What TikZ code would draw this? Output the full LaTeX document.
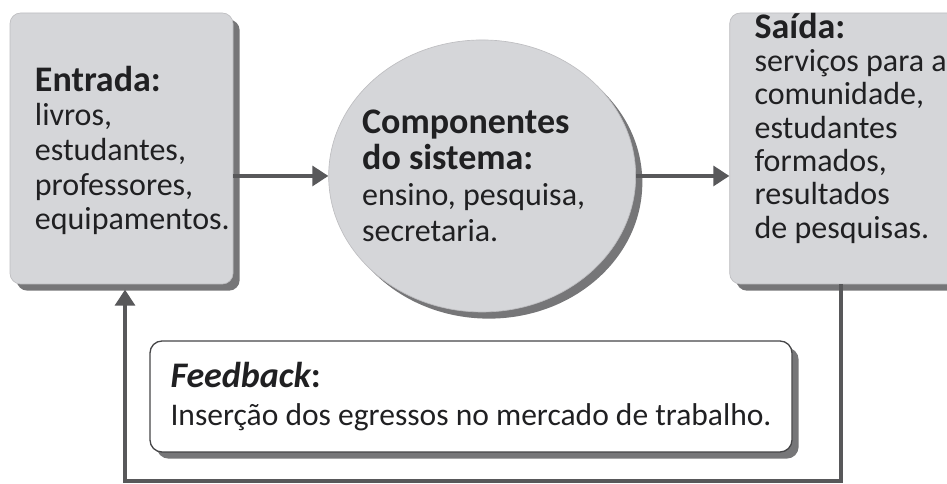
\documentclass[tikz,border=0pt]{standalone}
\usepackage{fontspec}
\setmainfont{Carlito}
\usepackage{xcolor}
\usetikzlibrary{
arrows.meta,
positioning,
shapes.geometric,
shadows
}
\definecolor{boxgray}{RGB}{213,214,217}
\definecolor{edgegray}{RGB}{190,190,193}
\definecolor{shadegray}{RGB}{118,118,120}
\definecolor{linegray}{RGB}{88,88,90}
\definecolor{inkgray}{RGB}{32,32,34}
\tikzset{
  grayshadow/.style={drop shadow={shadow xshift=5pt, shadow yshift=-5pt, opacity=1, fill=shadegray}},
  sidebox/.style={rectangle, rounded corners=8pt, fill=boxgray, draw=edgegray, line width=0.5pt,
    minimum width=167.25pt, minimum height=203.25pt, inner sep=0pt, grayshadow},
  boxtext/.style={align=left, inner sep=0pt, text=inkgray, anchor=north west,
    font=\fontsize{24}{26}\selectfont},
  flow/.style={-{Triangle[length=12pt,width=15pt]}, line width=2.4pt, color=linegray}
}
\newcommand{\heading}[1]{{\fontsize{27}{26}\selectfont\bfseries #1}}

\begin{document}
\begin{tikzpicture}[x=0.75pt,y=-0.75pt]
    \useasboundingbox (0,0) rectangle (947,484);
    \clip (0,0) rectangle (947,484);
    % the three blocks
    \node [sidebox] (entrada) at (121.5,148.5) {};
    \node [ellipse, fill=boxgray, draw=edgegray, line width=0.5pt, inner ysep=0pt, inner xsep=-12pt,
      minimum width=230.25pt, minimum height=204pt, grayshadow, text width=180pt, align=flush left, text=inkgray,
      font=\fontsize{24}{27}\selectfont, right = 71.25pt of entrada, yshift=-20.6pt] (comp)
      {\heading{Componentes}\\\heading{do sistema:}\\ensino, pesquisa,\\secretaria.};
    \node [sidebox, minimum width=195pt, right = 70pt of comp, yshift=20.6pt] (saida) {};
    \node [boxtext] (entradaText) at ([shift={(25,53)}] entrada.north west)
      {\heading{Entrada:}\\livros,\\estudantes,\\professores,\\equipamentos.};
    \node [boxtext, font=\fontsize{24}{25}\selectfont] (saidaText) at ([shift={(25,0)}] saida.north west)
      {\heading{Saída:}\\serviços para a\\comunidade,\\estudantes\\formados,\\resultados\\de pesquisas.};
    % feedback
    \node [rectangle, rounded corners=9pt, fill=white, draw=linegray!80!black, line width=1pt,
      minimum width=481.5pt, minimum height=83.25pt, grayshadow, align=left, text=inkgray,
      font=\fontsize{23.65}{28}\selectfont] (feedback) at (471,396.5)
      {{\fontsize{27}{28}\selectfont\bfseries\itshape Feedback}{\fontsize{27}{28}\selectfont\bfseries:}\\Inserção dos egressos no mercado de trabalho.};
    \coordinate (backR) at (841,481);
    \coordinate (backL) at (125,481);
    \draw[flow] (entrada.east |- comp.west) -- (comp.west);
    \draw[flow] (comp.east) -- (comp.east -| saida.west);
    \draw[flow, shorten >=4pt] (saida.south -| backR) -- (backR) -- (backL) -- (backL |- entrada.south);
\end{tikzpicture}
\end{document}
